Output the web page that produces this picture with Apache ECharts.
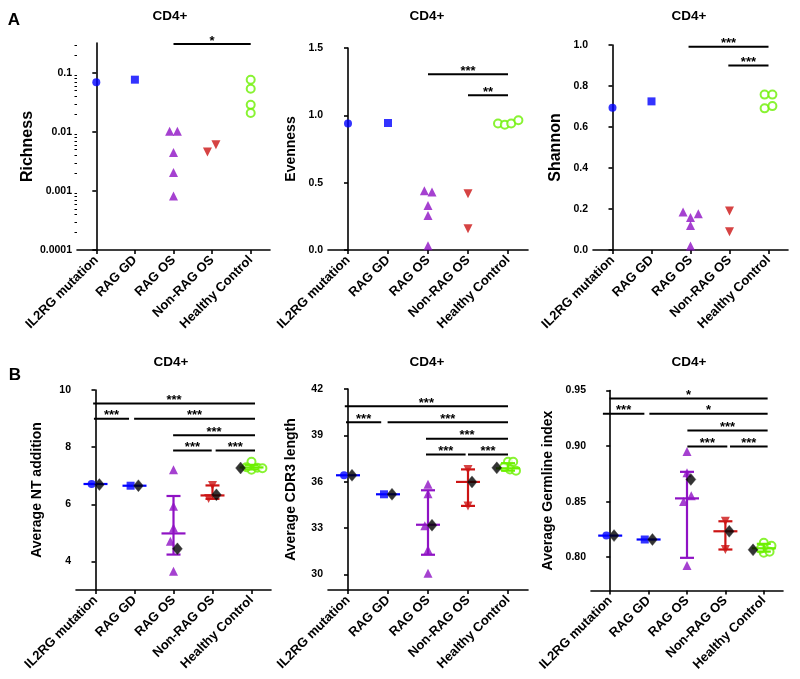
<!DOCTYPE html>
<html><head><meta charset="utf-8">
<script src="https://cdn.jsdelivr.net/npm/echarts@6/dist/echarts.min.js"></script>
<style>html,body{margin:0;padding:0;background:#fff}#c{width:800px;height:679px}</style>
</head><body><div id="c"></div>
<script>
// ---------------- DATA ----------------
const groups = ['IL2RG mutation', 'RAG GD', 'RAG OS', 'Non-RAG OS', 'Healthy Control'];

// Panel A: Richness (log scale)
const richness = [[0.0695], [0.077], [0.0103, 0.0103, 0.0045, 0.00206, 0.00082], [0.0046, 0.0061], [0.077, 0.054, 0.0288, 0.021]];
const richnessJitter = [[0], [0], [-0.1, 0.1, 0, 0, 0], [-0.12, 0.1], [0, 0, 0, 0]];
const richnessTicks = [0.0001, 0.001, 0.01, 0.1];
const richnessMinorTicks = [0.0002, 0.0003, 0.0004, 0.0005, 0.0006, 0.0007, 0.0008, 0.0009,
  0.002, 0.003, 0.004, 0.005, 0.006, 0.007, 0.008, 0.009,
  0.02, 0.03, 0.04, 0.05, 0.06, 0.07, 0.08, 0.09, 0.2, 0.3];
const richnessSig = [[2, 4, 0.31, '*']];

// Panel A: Evenness
const evenness = [[0.94], [0.943], [0.44, 0.43, 0.33, 0.256, 0.032], [0.418, 0.157], [0.94, 0.93, 0.94, 0.963]];
const evennessJitter = [[0], [0], [-0.09, 0.1, 0, 0, 0], [0, 0], [-0.25, -0.08, 0.08, 0.26]];
const evennessTicks = [0, 0.5, 1.0, 1.5];
const evennessSig = [[2, 4, 1.306, '***'], [3, 4, 1.149, '**']];

// Panel A: Shannon
const shannon = [[0.694], [0.725], [0.185, 0.159, 0.177, 0.119, 0.0195], [0.19, 0.089], [0.758, 0.758, 0.691, 0.702]];
const shannonJitter = [[0], [0], [-0.19, 0, 0.2, 0, 0], [0, 0], [-0.1, 0.1, -0.1, 0.1]];
const shannonTicks = [0, 0.2, 0.4, 0.6, 0.8, 1.0];
const shannonSig = [[1.95, 4, 0.992, '***'], [2.97, 4, 0.9, '***']];

// Panel B: Average NT addition
const ntAdd = [[6.71], [6.65], [7.21, 5.93, 5.17, 4.71, 3.66], [6.66, 6.2], [7.49, 7.21, 7.28, 7.26, 7.30]];
const ntJitter = [[-0.1], [-0.1], [0, 0, 0, -0.08, 0], [0, -0.1], [0, 0, 0.15, 0.28, -0.13]];
const ntPatient = [6.69, 6.65, 4.44, 6.33, 7.27];
const ntMean = [6.71, 6.65, 4.98, 6.31, 7.29];
const ntLow = [6.71, 6.65, 4.24, 6.19, 7.22];
const ntHigh = [6.71, 6.65, 6.29, 6.66, 7.38];
const ntTicks = [4, 6, 8, 10];
const ntSig = [[-0.06, 4.09, 9.53, '***'], [-0.04, 0.86, 8.99, '***'], [0.99, 4.09, 8.99, '***'],
               [1.99, 4.09, 8.42, '***'], [1.99, 2.98, 7.88, '***'], [3.08, 4.09, 7.88, '***']];

// Panel B: Average CDR3 length
const cdr3 = [[36.42], [35.19], [35.84, 35.23, 33.15, 31.6, 30.08], [36.80, 34.44], [37.3, 37.3, 36.79, 36.72, 36.95]];
const cdr3Jitter = [[-0.1], [-0.1], [0, 0, -0.08, 0, 0], [0, 0], [0, 0.13, 0.05, 0.2, -0.1]];
const cdr3Patient = [36.42, 35.19, 33.19, 35.99, 36.9];
const cdr3Mean = [36.42, 35.19, 33.22, 35.99, 36.87];
const cdr3Low = [36.42, 35.19, 31.28, 34.44, 36.72];
const cdr3High = [36.42, 35.19, 35.45, 36.80, 37.2];
const cdr3Ticks = [30, 33, 36, 39, 42];
const cdr3Sig = [[-0.08, 4.0, 40.88, '***'], [-0.05, 0.83, 39.85, '***'], [0.99, 4.0, 39.85, '***'],
                 [1.95, 4.0, 38.78, '***'], [1.95, 2.94, 37.77, '***'], [3.0, 4.0, 37.77, '***']];

// Panel B: Average Germline index
const germ = [[0.8194], [0.8159], [0.895, 0.8553, 0.85, 0.7925, 0.876], [0.8323, 0.8069], [0.8129, 0.8102, 0.8039, 0.8048, 0.8075]];
const germJitter = [[-0.1], [-0.1], [0, 0.11, -0.09, 0, 0], [0, 0], [0, 0.2, 0, 0.15, -0.08]];
const germPatient = [0.8194, 0.8159, 0.870, 0.8233, 0.8066];
const germMean = [0.8194, 0.8159, 0.8529, 0.8233, 0.808];
const germLow = [0.8194, 0.8159, 0.7994, 0.8069, 0.805];
const germHigh = [0.8194, 0.8159, 0.8768, 0.8323, 0.812];
const germTicks = [0.80, 0.85, 0.90, 0.95];
const germSig = [[-0.02, 4.1, 0.9428, '*'], [-0.19, 0.89, 0.929, '***'], [1.02, 4.1, 0.929, '*'],
                 [2.01, 4.1, 0.9141, '***'], [2.01, 3.05, 0.8995, '***'], [3.12, 4.1, 0.8995, '***']];

// ---------------- STYLE / LAYOUT ----------------
const FONT = "'Liberation Sans', Arial, sans-serif";
const symbols = ['circle', 'rect', 'triangle', 'triangle', 'circle'];
const rotations = [0, 0, 0, 180, 0];
const sizes = [8, 8, 9, 9, 8];
const colors = ['#0000ff', '#0000ff', '#8f12c4', '#cc1414', '#6cf000'];
const itemStyles = colors.map((c, i) => i === 4
  ? { color: '#ffffff', borderColor: c, borderWidth: 2 }
  : { color: c });

const panels = [
  { grid: { left: 77, top: 43, width: 193, height: 207 }, name: 'Richness', nameSize: 16, nameGap: 39,
    type: 'log', min: 0.0001, max: 0.322, ticks: richnessTicks, fmt: v => String(v),
    vals: richness, jit: richnessJitter, sig: richnessSig },
  { grid: { left: 328, top: 48, width: 200, height: 202 }, name: 'Evenness', nameSize: 14, nameGap: 30,
    type: 'value', min: 0, max: 1.5, ticks: evennessTicks, fmt: v => v.toFixed(1),
    vals: evenness, jit: evennessJitter, sig: evennessSig },
  { grid: { left: 593, top: 45, width: 195, height: 205 }, name: 'Shannon', nameSize: 16, nameGap: 29,
    type: 'value', min: 0, max: 1.0, ticks: shannonTicks, fmt: v => v.toFixed(1),
    vals: shannon, jit: shannonJitter, sig: shannonSig },
  { grid: { left: 76, top: 390, width: 195, height: 200 }, name: 'Average NT addition', nameSize: 14, nameGap: 32,
    type: 'value', min: 3, max: 10, ticks: ntTicks, fmt: v => String(v),
    vals: ntAdd, jit: ntJitter, sig: ntSig, patient: ntPatient, mean: ntMean, low: ntLow, high: ntHigh },
  { grid: { left: 328, top: 389, width: 200, height: 201 }, name: 'Average CDR3 length', nameSize: 14, nameGap: 30,
    type: 'value', min: 29, max: 42, ticks: cdr3Ticks, fmt: v => String(v),
    vals: cdr3, jit: cdr3Jitter, sig: cdr3Sig, patient: cdr3Patient, mean: cdr3Mean, low: cdr3Low, high: cdr3High },
  { grid: { left: 591, top: 390.5, width: 192, height: 200 }, name: 'Average Germline index', nameSize: 14, nameGap: 36,
    type: 'value', min: 0.77, max: 0.95, ticks: germTicks, fmt: v => v.toFixed(2),
    vals: germ, jit: germJitter, sig: germSig, patient: germPatient, mean: germMean, low: germLow, high: germHigh }
];

const grids = [], xAxes = [], yAxes = [], series = [];
const axisLine = { show: true, lineStyle: { color: '#000', width: 1.6 } };
const axisTick = { show: true, length: 4, inside: false, lineStyle: { color: '#000', width: 1.6 } };

panels.forEach((p, i) => {
  grids.push(Object.assign({ containLabel: false }, p.grid));
  xAxes.push({
    type: 'category', gridIndex: i, data: groups, boundaryGap: true,
    axisLine, axisTick: Object.assign({ alignWithLabel: true }, axisTick),
    axisLabel: { rotate: 45, margin: 8, fontFamily: FONT, fontWeight: 'bold', fontSize: 13, color: '#000', interval: 0 },
    splitLine: { show: false }
  });
  xAxes.push({ type: 'value', gridIndex: i, min: -0.5, max: 4.5, show: false });
  yAxes.push({
    type: p.type, gridIndex: i, min: p.min, max: p.max, logBase: 10,
    name: p.name, nameLocation: 'middle', nameGap: p.nameGap,
    nameTextStyle: { fontFamily: FONT, fontWeight: 'bold', fontSize: p.nameSize, color: '#000' },
    axisLine, axisTick: Object.assign({ customValues: p.ticks }, axisTick),
    axisLabel: { customValues: p.ticks, formatter: p.fmt, margin: 5, fontFamily: FONT, fontWeight: 'bold', fontSize: 10.5, color: '#000' },
    splitLine: { show: false }, minorTick: { show: false }
  });
});
// minor ticks for the log axis (second y axis sharing grid 0)
yAxes.push({
  type: 'log', gridIndex: 0, min: panels[0].min, max: panels[0].max, logBase: 10, position: 'left',
  axisLine: { show: false }, axisLabel: { show: false }, splitLine: { show: false },
  axisTick: { show: true, customValues: richnessMinorTicks, length: 2.5, lineStyle: { color: '#000', width: 1 } }
});

panels.forEach((p, i) => {
  const xi = 2 * i + 1;
  p.vals.forEach((arr, g) => {
    series.push({
      type: 'scatter', xAxisIndex: xi, yAxisIndex: i, silent: true, animation: false,
      symbol: symbols[g], symbolRotate: rotations[g], symbolSize: sizes[g], itemStyle: itemStyles[g],
      data: arr.map((v, k) => [g + p.jit[g][k], v]), z: 3
    });
  });
  if (p.mean) {
    series.push({
      type: 'custom', xAxisIndex: xi, yAxisIndex: i, silent: true, animation: false, clip: false, z: 4,
      data: groups.map((_, g) => [g, p.mean[g], p.low[g], p.high[g]]),
      encode: { x: 0, y: [1, 2, 3] },
      renderItem: (params, api) => {
        const g = api.value(0);
        const c = api.coord([g, api.value(1)]);
        const lo = api.coord([g, api.value(2)]);
        const hi = api.coord([g, api.value(3)]);
        const col = colors[params.dataIndex];
        const st = { stroke: col, lineWidth: 2.2 };
        const ch = [{ type: 'line', shape: { x1: c[0] - 12, y1: c[1], x2: c[0] + 12, y2: c[1] }, style: st }];
        if (Math.abs(hi[1] - lo[1]) > 1) {
          ch.push({ type: 'line', shape: { x1: c[0], y1: lo[1], x2: c[0], y2: hi[1] }, style: st });
          ch.push({ type: 'line', shape: { x1: c[0] - 7, y1: lo[1], x2: c[0] + 7, y2: lo[1] }, style: st });
          ch.push({ type: 'line', shape: { x1: c[0] - 7, y1: hi[1], x2: c[0] + 7, y2: hi[1] }, style: st });
        }
        return { type: 'group', children: ch };
      }
    });
    series.push({
      type: 'scatter', xAxisIndex: xi, yAxisIndex: i, silent: true, animation: false, z: 5,
      symbol: 'diamond', symbolSize: [10, 12],
      itemStyle: { color: '#000', borderColor: '#444', borderWidth: 0.5 },
      data: p.patient.map((v, g) => [g + (g === 4 ? -0.28 : 0.1), v])
    });
  }
  series.push({
    type: 'custom', xAxisIndex: xi, yAxisIndex: i, silent: true, animation: false, clip: false, z: 6,
    data: p.sig.map(s => [s[0], s[1], s[2]]),
    encode: { x: [0, 1], y: 2 },
    renderItem: (params, api) => {
      const s = p.sig[params.dataIndex];
      const a = api.coord([s[0], s[2]]);
      const b = api.coord([s[1], s[2]]);
      return { type: 'group', children: [
        { type: 'line', shape: { x1: a[0], y1: a[1], x2: b[0], y2: b[1] }, style: { stroke: '#000', lineWidth: 2 } },
        { type: 'text', x: (a[0] + b[0]) / 2, y: a[1] - 3,
          style: { text: s[3], fill: '#000', font: 'bold 13px ' + FONT, textAlign: 'center', textVerticalAlign: 'middle' } }
      ] };
    }
  });
});

const titles = [
  { x: 170, y: 16 }, { x: 427, y: 16 }, { x: 689, y: 16 },
  { x: 171, y: 362 }, { x: 427, y: 362 }, { x: 689, y: 362 }
];
const graphic = titles.map(t => ({
  type: 'text', x: t.x, y: t.y, silent: true,
  style: { text: 'CD4+', font: 'bold 13.5px ' + FONT, fill: '#000', textAlign: 'center', textVerticalAlign: 'middle' }
}));
graphic.push({ type: 'text', x: 14, y: 20, silent: true,
  style: { text: 'A', font: 'bold 17px ' + FONT, fill: '#000', textAlign: 'center', textVerticalAlign: 'middle' } });
graphic.push({ type: 'text', x: 15, y: 375, silent: true,
  style: { text: 'B', font: 'bold 17px ' + FONT, fill: '#000', textAlign: 'center', textVerticalAlign: 'middle' } });

const chart = echarts.init(document.getElementById('c'), null, { renderer: 'canvas' });
chart.setOption({
  backgroundColor: '#fff', animation: false,
  grid: grids, xAxis: xAxes, yAxis: yAxes, series, graphic
});
</script></body></html>
